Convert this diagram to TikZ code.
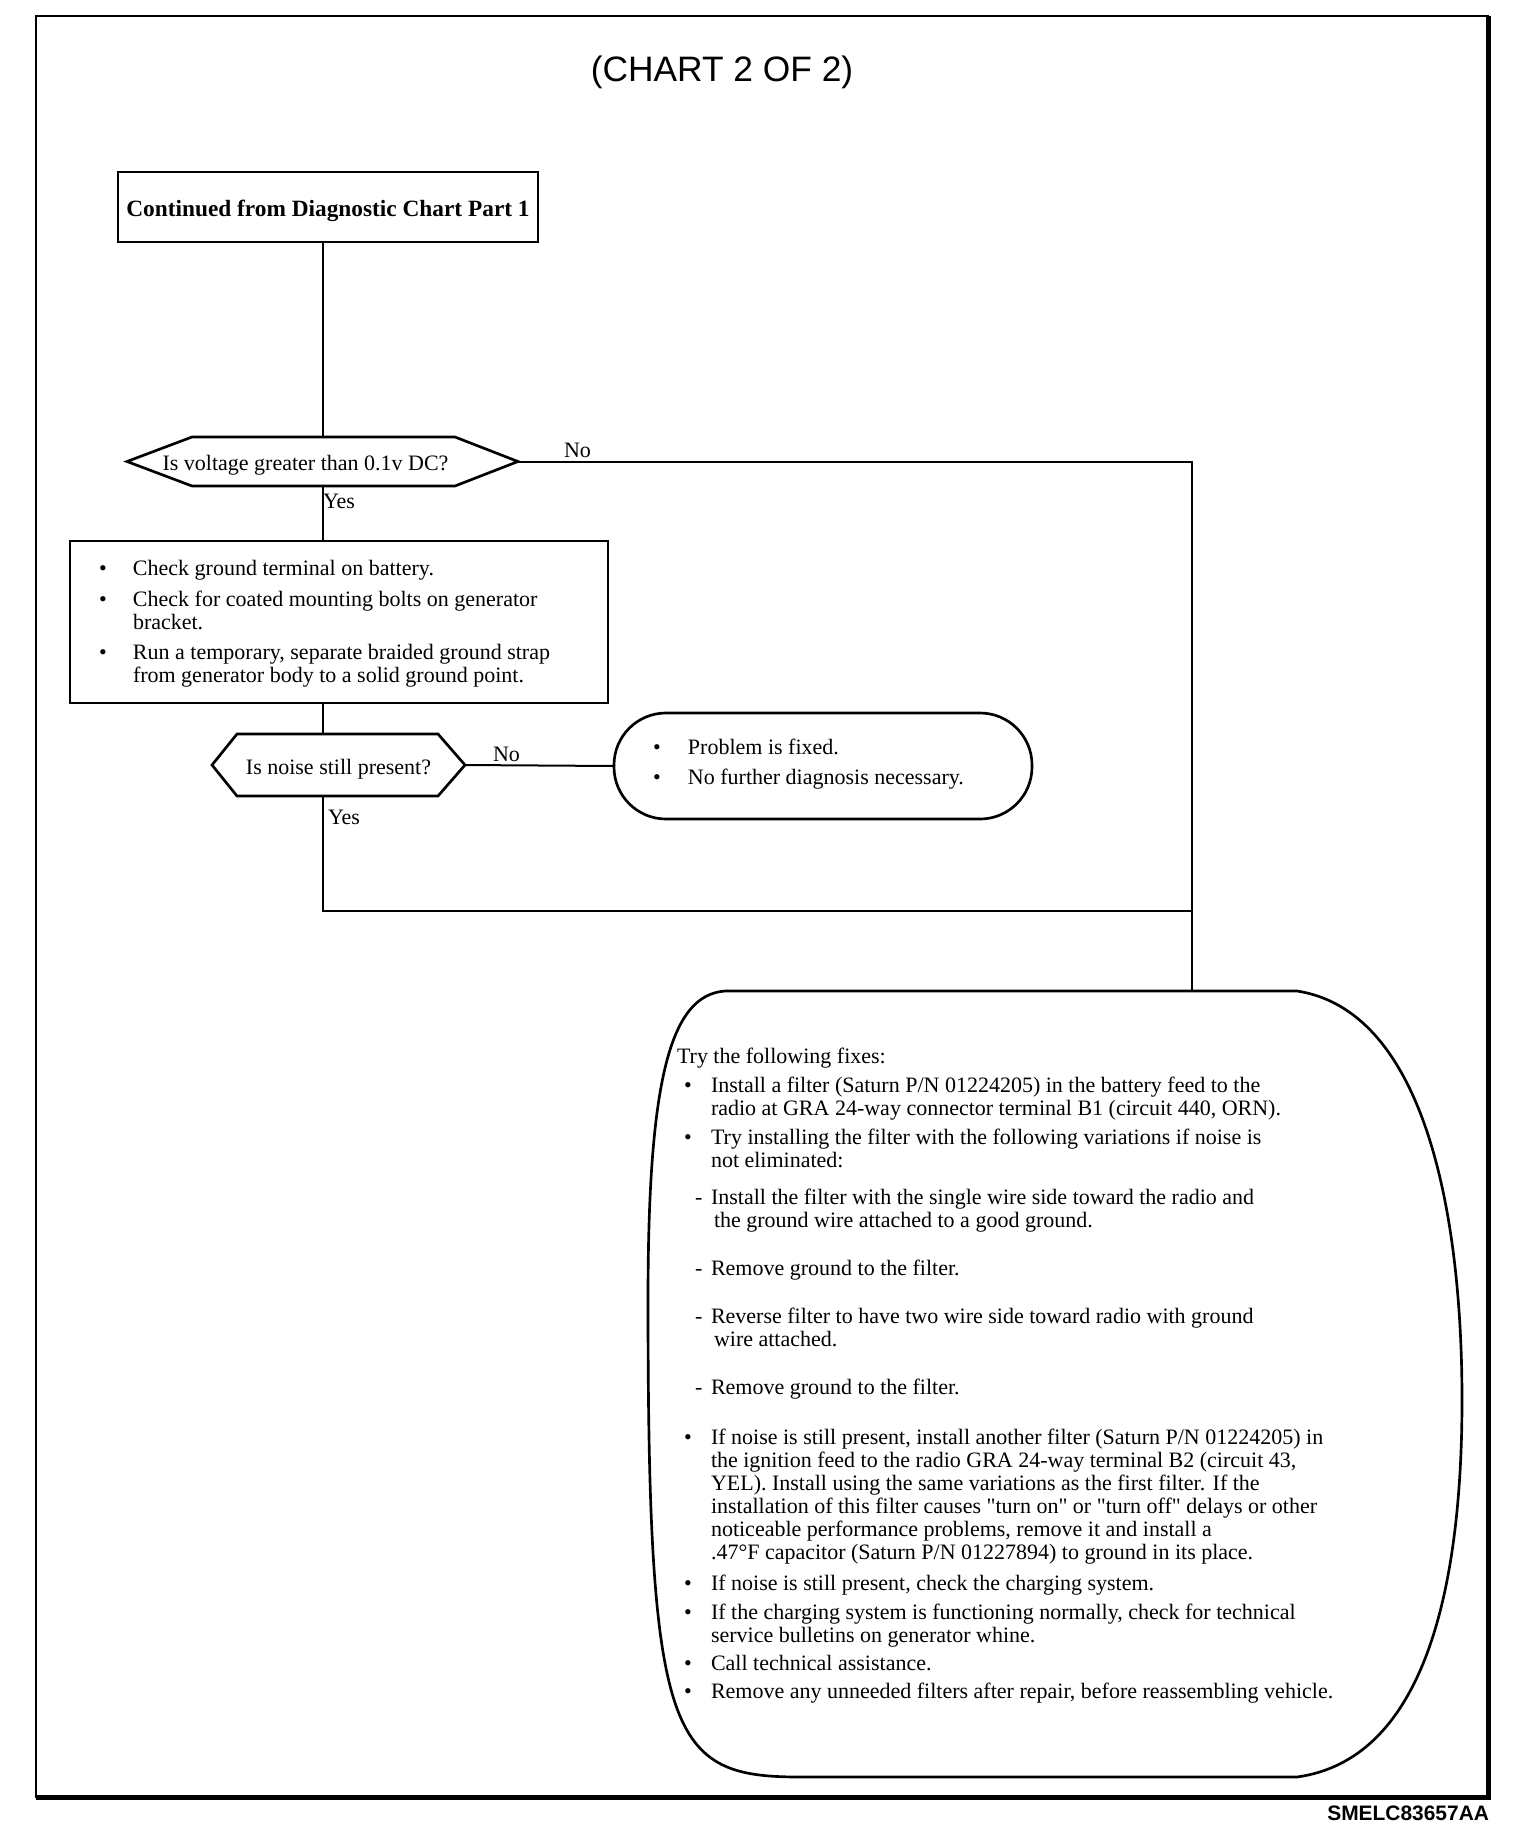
\documentclass[tikz,border=0pt]{standalone}
\usepackage{fontspec}
\setmainfont{Liberation Serif}
\newfontfamily\headfont{Liberation Sans}
\usetikzlibrary{calc}

\newlength\pxu \setlength\pxu{0.75pt}
\newlength\bulx \newlength\bulw
\newcommand\bodyfont{\fontsize{16.5}{17.25}\selectfont}
\newcommand\bulfirst[1]{\hangindent=\dimexpr\bulx+\bulw\relax\hangafter=1\noindent\hspace*{\bulx}\makebox[\bulw][l]{\textbullet}#1}
\newcommand\bulitem[2]{\par\vspace{#1\pxu}\bulfirst{#2}}
\newcommand\dashitem[2]{\par\vspace{#1\pxu}\hangindent=37\pxu\hangafter=1\noindent\hspace*{18\pxu}\makebox[16\pxu][l]{-}#2}
\newcommand\hexoutline[3]{\draw[line width=2pt] (#1.west) -- ($(#1.north west)+(#2,0)$) -- ($(#1.north east)+(-#3,0)$) -- (#1.east) -- ($(#1.south east)+(-#3,0)$) -- ($(#1.south west)+(#2,0)$) -- cycle;}

\tikzset{every picture/.style={line width=1.5pt}}

\begin{document}
\begin{tikzpicture}[x=0.75pt,y=0.75pt,yscale=-1,xscale=1,
    shapebox/.style={draw, line width=2pt, inner sep=0pt, outer sep=0pt},
    hexbox/.style={inner sep=0pt, outer sep=0pt, font=\bodyfont},
    bodytext/.style={anchor=base west, inner sep=0pt, font=\bodyfont},
    answer/.style={anchor=base west, inner sep=0pt, font=\bodyfont}]
    \useasboundingbox (0,0) rectangle (1520,1834);
    % Frame
    \draw[line width=1.5pt] (36,16) rectangle (1488,1797);
    \draw[line width=3.75pt] (36,1797) -- (1488,1797) -- (1488,16);
    \node[font=\headfont\fontsize{26.5}{30}\selectfont] (title) at (722,72) {(CHART 2 OF 2)};
    \node[anchor=base east, inner sep=0pt, font=\headfont\bfseries\fontsize{15.7}{18}\selectfont] (code) at (1490,1820) {SMELC83657AA};
    % Start box
    \node[shapebox, minimum width=420\pxu, minimum height=70\pxu, text height=18\pxu, text depth=0pt, font=\fontsize{17.5}{20}\selectfont\bfseries] (start) at (328,207) {Continued from Diagnostic Chart Part 1};
    % Decision 1
    \node[hexbox, minimum width=391\pxu, minimum height=49\pxu, text height=17\pxu, text depth=0pt] (ask1) at (322.5,461.5) {\hspace*{-34\pxu}Is voltage greater than 0.1v DC?};
    \hexoutline{ask1}{65}{63}
    \node[answer] (no1) at (563,457) {No};
    \node[answer] (yes1) at (322,508) {Yes};
    % Check box
    \node[shapebox, minimum width=538\pxu, minimum height=162\pxu] (check) at (339,622) {};
    \node[bodytext] (checktext) at (98,575) {\setlength\bulx{0pt}\setlength\bulw{34\pxu}\begin{minipage}[t]{500\pxu}\bodyfont
    \bulfirst{Check ground terminal on battery.}
    \bulitem{8}{Check for coated mounting bolts on generator\\bracket.}
    \bulitem{7}{Run a temporary, separate braided ground strap\\from generator body to a solid ground point.}
    \end{minipage}};
    % Decision 2
    \node[hexbox, minimum width=253\pxu, minimum height=62\pxu, text height=18\pxu, text depth=0pt] (ask2) at (338.5,765) {Is noise still present?};
    \hexoutline{ask2}{25}{27}
    \node[answer] (no2) at (492,761) {No};
    \node[answer] (yes2) at (327,824) {Yes};
    % Fixed
    \node[shapebox, rounded corners=39pt, minimum width=418\pxu, minimum height=106\pxu] (done) at (823,766) {};
    \node[bodytext] (donetext) at (652,754) {\setlength\bulx{0pt}\setlength\bulw{35\pxu}\begin{minipage}[t]{360\pxu}\bodyfont
    \bulfirst{Problem is fixed.}
    \bulitem{7}{No further diagnosis necessary.}
    \end{minipage}};
    % Fixes
    \draw[line width=2pt] (725,991) -- (1297,991) .. controls (1420,1010) and (1462,1200) .. (1462,1400) .. controls (1462,1600) and (1420,1760) .. (1297,1777) -- (800,1777) .. controls (670,1777) and (648,1740) .. (648,1300) .. controls (648,1080) and (670,995) .. (725,991) -- cycle;
    \coordinate (fixtop) at (1192,991);
    \coordinate (merge) at (1192,911);
    \node[bodytext] (fixes) at (676,1063) {\setlength\bulx{7\pxu}\setlength\bulw{27\pxu}\begin{minipage}[t]{760\pxu}\bodyfont
    \noindent Try the following fixes:
    \bulitem{6}{Install a filter (Saturn P/N 01224205) in the battery feed to the\\radio at GRA 24-way connector terminal B1 (circuit 440, ORN).}
    \bulitem{6}{Try installing the filter with the following variations if noise is\\not eliminated:}
    \dashitem{14}{Install the filter with the single wire side toward the radio and\\the ground wire attached to a good ground.}
    \dashitem{25}{Remove ground to the filter.}
    \dashitem{25}{Reverse filter to have two wire side toward radio with ground\\wire attached.}
    \dashitem{25}{Remove ground to the filter.}
    \bulitem{27}{If noise is still present, install another filter (Saturn P/N 01224205) in\\the ignition feed to the radio GRA 24-way terminal B2 (circuit 43,\\YEL). Install using the same variations as the first filter. If the\\installation of this filter causes \textquotedbl turn on\textquotedbl{} or \textquotedbl turn off\textquotedbl{} delays or other\\noticeable performance problems, remove it and install a\\.47°F capacitor (Saturn P/N 01227894) to ground in its place.}
    \bulitem{8}{If noise is still present, check the charging system.}
    \bulitem{6}{If the charging system is functioning normally, check for technical\\service bulletins on generator whine.}
    \bulitem{5}{Call technical assistance.}
    \bulitem{5}{Remove any unneeded filters after repair, before reassembling vehicle.}
    \end{minipage}};
    % Connections
    \draw (ask1.north |- start.south) -- (ask1.north);
    \draw (ask1.south) -- (ask1.south |- check.north);
    \draw (ask1.south |- check.south) -- (ask1.south |- ask2.north);
    \draw (ask2.east) -- (done.west);
    \draw (ask1.east) -| (fixtop);
    \draw (ask1.south |- ask2.south) |- (merge);
\end{tikzpicture}
\end{document}
